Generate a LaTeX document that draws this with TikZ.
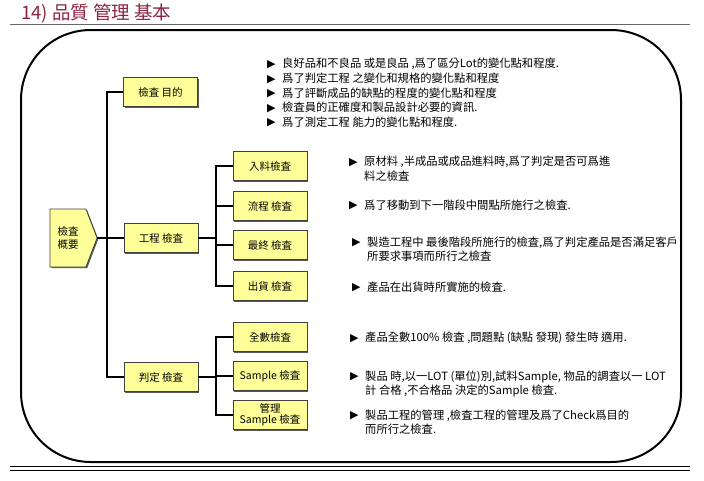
\documentclass[tikz,border=0pt]{standalone}
\usepackage{fontspec}
\setmainfont{Noto Sans CJK TC}
\newfontfamily\dvs{DejaVu Sans}
\usetikzlibrary{shapes.symbols,shadows}
\definecolor{boxfill}{HTML}{FFFF99}
\definecolor{titlered}{HTML}{8C2440}
\newcommand{\bul}{\makebox[15pt][l]{\raisebox{0.3pt}{\dvs\fontsize{11}{11}\selectfont ▶}}}
\newcommand{\ind}{\hspace*{15pt}}
\begin{document}
\begin{tikzpicture}[x=1pt,y=-1pt,
  box/.style={draw=black!75, line width=0.8pt, fill=boxfill, minimum width=74pt, minimum height=29pt,
    inner sep=1pt, align=center, font=\fontsize{10.5}{11.5}\selectfont,
    drop shadow={shadow xshift=1.2pt, shadow yshift=-1.2pt, fill=black!65, opacity=1}},
  conn/.style={line width=1.8pt, black, line join=miter},
  desc/.style={anchor=west, inner sep=0pt, align=left, font=\fontsize{11.3}{14.5}\selectfont},
]
\useasboundingbox (0,0) rectangle (704,480);
\fill[white] (0,0) rectangle (704,480);

% title and rules
\node[anchor=west, inner sep=0pt, text=titlered, font=\fontsize{18.5}{18.5}\selectfont] (title) at (21,13) {14) 品質 管理 基本};
\draw[black!60, line width=0.8pt] (10,24) -- (690,24);
\draw[line width=2pt]
  (21,100) .. controls (21,61) and (52,30) .. (91,30)
  -- (611,30) .. controls (650,30) and (681,61) .. (681,100)
  -- (681,392) .. controls (681,431) and (650,462) .. (611,462)
  -- (91,462) .. controls (52,462) and (21,431) .. (21,392) -- cycle;
\draw[line width=1.8pt] (10,466.5) -- (690,466.5);
\draw[line width=1.8pt] (10,470.5) -- (690,470.5);

% overview node
\node[shape=signal, signal to=east, signal pointer angle=138, draw=black!75, line width=0.8pt, fill=boxfill,
  minimum width=47pt, minimum height=58pt, inner sep=0pt, align=center,
  font=\fontsize{10.5}{13}\selectfont,
  drop shadow={shadow xshift=1.2pt, shadow yshift=-1.2pt, fill=black!65, opacity=1}] (ov) at (68,238) {檢査\\概要};

% level 1
\node[box] (mu) at (160.5,92) {檢査\ 目的};
\node[box] (gc) at (161,238) {工程\ 檢査};
\node[box] (pd) at (161,377) {判定\ 檢査};

% level 2
\node[box] (b1) at (270,166) {入料檢査};
\node[box] (b2) at (270,206) {流程\ 檢査};
\node[box] (b3) at (270,245) {最終\ 檢査};
\node[box] (b4) at (270,286) {出貨\ 檢査};
\node[box] (c1) at (270,337) {全數檢査};
\node[box] (c2) at (270,376) {Sample\ 檢査};
\node[box, font=\fontsize{10.5}{11}\selectfont] (c3) at (270,415) {管理\\Sample\ 檢査};

% connectors
\coordinate (tr) at (107,0);
\coordinate (st) at (216,0);
\draw[conn] (ov.east) -- (gc.west);
\draw[conn] (mu.west) -- (mu.west -| tr) -- (pd.west -| tr) -- (pd.west);
\draw[conn] (gc.east) -- (gc.east -| st);
\draw[conn] (b1.west) -- (b1.west -| st) -- (b4.west -| st) -- (b4.west);
\draw[conn] (b2.west) -- (b2.west -| st);
\draw[conn] (b3.west) -- (b3.west -| st);
\draw[conn] (pd.east) -- (pd.east -| st);
\draw[conn] (c1.west) -- (c1.west -| st) -- (c3.west -| st) -- (c3.west);
\draw[conn] (c2.west) -- (c2.west -| st);

% purpose descriptions
\node[desc] (t1) at (267,64) {\bul 良好品和不良品 或是良品 ,爲了區分Lot的變化點和程度.};
\node[desc] (t2) at (267,78.5) {\bul 爲了判定工程 之變化和規格的變化點和程度};
\node[desc] (t3) at (267,93) {\bul 爲了評斷成品的缺點的程度的變化點和程度};
\node[desc] (t4) at (267,107.5) {\bul 檢査員的正確度和製品設計必要的資訊.};
\node[desc] (t5) at (267,122) {\bul 爲了測定工程 能力的變化點和程度.};

% process inspection descriptions
\node[desc] (d1) at (349,168.5) {\bul 原材料 ,半成品或成品進料時,爲了判定是否可爲進\\\ind 料之檢査};
\node[desc] (d2) at (349,205) {\bul 爲了移動到下一階段中間點所施行之檢査.};
\node[desc] (d3) at (352,249) {\bul 製造工程中 最後階段所施行的檢査,爲了判定產品是否滿足客戶\\\ind 所要求事項而所行之檢査};
\node[desc] (d4) at (352,287) {\bul 產品在出貨時所實施的檢査.};

% judgment inspection descriptions
\node[desc] (e1) at (350,338) {\bul 產品全數100\%\ 檢査 ,問題點 (缺點 發現) 發生時 適用.};
\node[desc] (e2) at (350,384) {\bul 製品 時,以一LOT (單位)別,試料Sample, 物品的調査以一 LOT\\\ind 計 合格 ,不合格品 決定的Sample 檢査.};
\node[desc] (e3) at (350,422) {\bul 製品工程的管理 ,檢査工程的管理及爲了Check爲目的\\\ind 而所行之檢査.};
\end{tikzpicture}
\end{document}
